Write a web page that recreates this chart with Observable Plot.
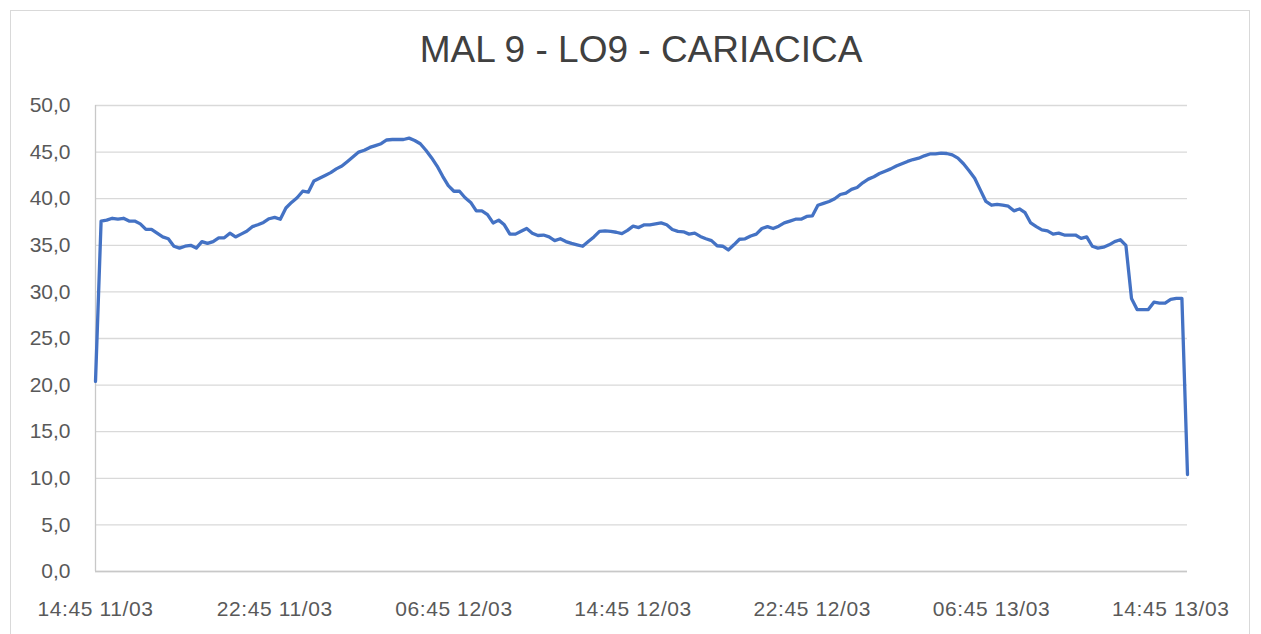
<!DOCTYPE html>
<html>
<head>
<meta charset="utf-8">
<script src="https://cdn.jsdelivr.net/npm/d3@7"></script>
<script src="https://cdn.jsdelivr.net/npm/@observablehq/plot@0.6"></script>
<style>
  html, body { margin: 0; padding: 0; background: #fff; }
  #wrap { position: relative; width: 1261px; height: 634px; overflow: hidden; font-family: "Liberation Sans", Arial, sans-serif; }
  #frame { position: absolute; left: 10px; top: 10px; width: 1240px; height: 660px; border: 1px solid #d9d9d9; box-sizing: border-box; }
  #title { position: absolute; left: 0; top: 28px; width: 1282px; text-align: center; font-size: 37px; color: #404040; line-height: 44px; }
  #chart { position: absolute; left: 0; top: 90px; }
</style>
</head>
<body>
<div id="wrap">
  <div id="frame"></div>
  <div id="title">MAL 9 - LO9 - CARIACICA</div>
  <div id="chart"></div>
</div>
<script>
// Series: readings every 15 minutes from 14:45 11/03 to 15:30 13/03
const startTime = "2023-03-11T14:45:00Z";
const stepMinutes = 15;
const values = [
  20.4, 37.6, 37.7, 37.9, 37.8, 37.9, 37.6, 37.6, 37.3, 36.7,
  36.7, 36.3, 35.9, 35.7, 34.9, 34.7, 34.9, 35.0, 34.7, 35.4,
  35.2, 35.4, 35.8, 35.8, 36.3, 35.9, 36.2, 36.5, 37.0, 37.2,
  37.45, 37.85,
  38.0, 37.8, 39.0, 39.6, 40.1, 40.8, 40.7, 41.9, 42.2,
  42.5, 42.8, 43.2, 43.5, 44.0, 44.5, 45.0, 45.2, 45.5, 45.7,
  45.9, 46.3, 46.35, 46.35, 46.35, 46.5, 46.25, 45.9, 45.2, 44.4,
  43.5, 42.4, 41.4, 40.8, 40.8, 40.1, 39.6, 38.7, 38.7, 38.3,
  37.4, 37.7, 37.2, 36.2, 36.2, 36.5, 36.8, 36.3, 36.05, 36.1,
  35.9, 35.5, 35.7, 35.4, 35.2, 35.05, 34.9, 35.4, 35.9, 36.5,
  36.55, 36.5,
  36.4, 36.25, 36.6, 37.05, 36.9, 37.2, 37.2, 37.3, 37.4,
  37.2, 36.7, 36.5, 36.45, 36.2, 36.3, 35.95, 35.7, 35.5, 34.95,
  34.9, 34.5, 35.05, 35.65, 35.7, 36.0, 36.2, 36.8, 37.0, 36.8,
  37.05, 37.4, 37.6, 37.8, 37.8, 38.1, 38.15, 39.3, 39.5, 39.7,
  40.0, 40.45, 40.6, 41.0, 41.2, 41.7, 42.1, 42.35, 42.7, 42.95,
  43.2, 43.5, 43.75, 44.0, 44.2, 44.35, 44.6, 44.8, 44.8, 44.9,
  44.85, 44.7,
  44.35, 43.75, 43.0, 42.2, 40.95, 39.7, 39.3, 39.4, 39.3,
  39.2, 38.7, 38.9, 38.5, 37.4, 37.0, 36.65, 36.55, 36.2, 36.3,
  36.1, 36.1, 36.1, 35.75, 35.9, 34.9, 34.7, 34.8, 35.05, 35.4,
  35.6, 35.0, 29.3, 28.1, 28.1, 28.1, 28.9, 28.8, 28.8, 29.2,
  29.3, 29.3, 10.4
];
const yTicks = [0, 5, 10, 15, 20, 25, 30, 35, 40, 45, 50];
const xTickEveryHours = 8;
const xTickCount = 7;

const t0 = new Date(startTime);
const data = values.map((v, i) => ({ t: new Date(+t0 + i * stepMinutes * 60000), v }));
const tEnd = data[data.length - 1].t;
const xTicks = d3.range(xTickCount).map(k => new Date(+t0 + k * xTickEveryHours * 3600000));
const fmtX = d3.utcFormat("%H:%M %d/%m");
const fmtY = d => d3.format(".1f")(d).replace(".", ",");

const chart = Plot.plot({
  width: 1261,
  height: 544,
  marginLeft: 95,
  marginRight: 74,
  marginTop: 15,
  marginBottom: 63,
  style: { fontFamily: "'Liberation Sans', Arial, sans-serif", fontSize: "21px", color: "#595959", background: "transparent" },
  x: { type: "utc", domain: [t0, tEnd], ticks: xTicks, tickFormat: fmtX, tickSize: 0, tickPadding: 30, label: null },
  y: { domain: [0, 50], ticks: yTicks, tickFormat: fmtY, tickSize: 0, tickPadding: 25, label: null },
  marks: [
    Plot.ruleY(yTicks, { stroke: "#d9d9d9", strokeWidth: 1.3 }),
    Plot.ruleX([t0], { stroke: "#c8c8c8", strokeWidth: 1.3 }),
    Plot.ruleY([0], { stroke: "#c8c8c8", strokeWidth: 1.3 }),
    Plot.line(data, { x: "t", y: "v", stroke: "#4472C4", strokeWidth: 3.3, strokeLinejoin: "round", strokeLinecap: "round" })
  ]
});
chart.querySelectorAll('g[aria-label^="x-axis"] text').forEach(t => t.setAttribute("letter-spacing", "0.6"));
document.getElementById("chart").appendChild(chart);
</script>
</body>
</html>
